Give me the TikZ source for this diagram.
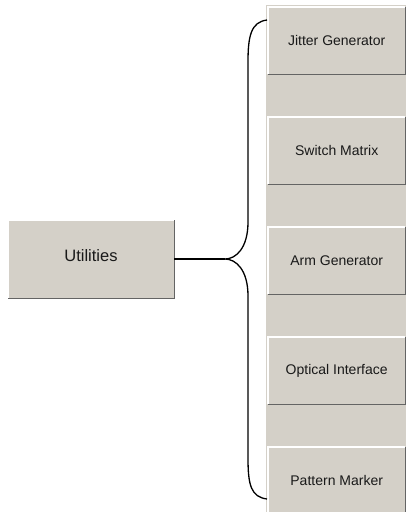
\documentclass[tikz,border=0pt]{standalone}
\usepackage{fontspec}
\setmainfont{Liberation Sans}
\definecolor{btngray}{RGB}{212,208,200}
\definecolor{btndark}{RGB}{100,100,100}
\definecolor{txt}{RGB}{25,25,25}
\tikzset{
  btn/.style={fill=btngray, inner sep=0pt, anchor=north west, text=txt,
    minimum width=137pt, minimum height=67pt, font=\fontsize{14}{16}\selectfont},
  bigbtn/.style={btn, minimum width=166pt, minimum height=78pt, font=\fontsize{16.5}{19}\selectfont},
  hilite/.style={draw=white, line width=1.2pt},
  shade/.style={draw=btndark, line width=1.6pt},
  brace/.style={draw=black, line width=1.3pt},
  column/.style={fill=btngray, draw=none}
}
\begin{document}
\begin{tikzpicture}[x=1pt,y=-1pt]
\useasboundingbox (0,0) rectangle (406,512);
\fill[white] (0,0) rectangle (406,512);
% gray column
\path[column] (266,5) rectangle (406,512);
% buttons
\node[bigbtn] (util) at (8,220) {};
\node[txt, font=\fontsize{16.5}{19}\selectfont] (utiltext) at (91,256) {Utilities};
\node[btn] (b1) at (268,7) {Jitter Generator};
\node[btn] (b2) at (268,117) {Switch Matrix};
\node[btn] (b3) at (268,227) {Arm Generator};
\node[btn] (b4) at (268,337) {Optical Interface};
\node[btn] (b5) at (268,447) {Pattern Marker};
\foreach \b in {util,b1,b2,b3,b4,b5}{
  \draw[hilite] (\b.south west) -- (\b.north west) -- (\b.north east);
  \draw[shade] (\b.south west) -- (\b.south east) -- (\b.north east);
}
% brace
\coordinate (tip) at (225,259);
\coordinate (top) at (267,20);
\coordinate (bot) at (267,499);
\draw[brace] (util.east |- tip) -- (tip);
\draw[brace] (top) .. controls (251,22) and (248,36) .. (248,62)
  -- (248,222) .. controls (248,248) and (236,259) .. (tip)
  .. controls (236,259) and (248,270) .. (248,296)
  -- (248,458) .. controls (248,485) and (251,497) .. (bot);
\end{tikzpicture}
\end{document}
